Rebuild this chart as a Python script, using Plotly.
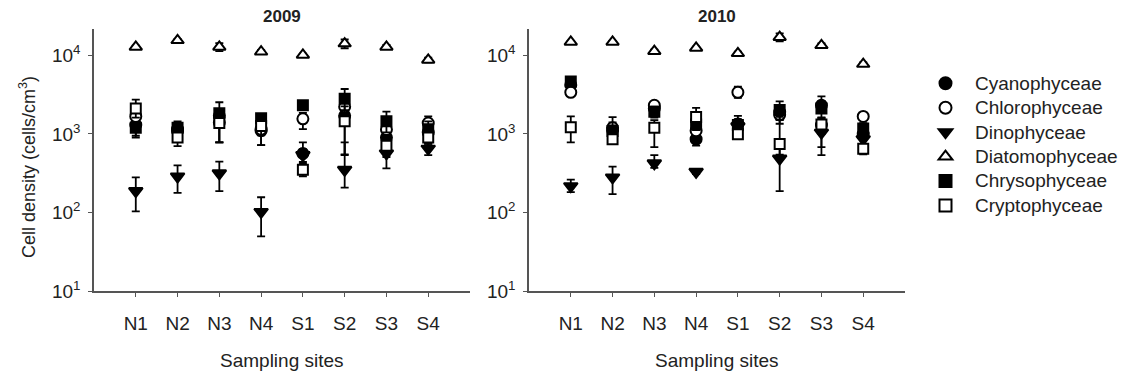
import plotly.graph_objects as go

sites = ["N1", "N2", "N3", "N4", "S1", "S2", "S3", "S4"]
years = ["2009", "2010"]
groups = ["Cyanophyceae", "Chlorophyceae", "Dinophyceae", "Diatomophyceae", "Chrysophyceae", "Cryptophyceae"]

# 2009 means
cyano_2009 = [1300, 1100, 1700, 1100, 565, 1700, 900, 1050]
chloro_2009 = [1670, 1150, 1400, 1150, 1560, 2220, 1140, 1380]
dino_2009 = [188, 288, 316, 102, 540, 350, 565, 650]
diatom_2009 = [12800, 15500, 12800, 11100, 10100, 14100, 12800, 8750]
chryso_2009 = [1200, 1200, 1830, 1590, 2320, 2810, 1450, 1150]
crypto_2009 = [2110, 900, 1380, 1260, 350, 1450, 710, 900]

# 2009 errors (upper, lower)
cyano_2009_up = [250, 150, 300, 200, 215, 500, 200, 200]
cyano_2009_dn = [350, 200, 920, 380, 150, 1160, 350, 300]
chloro_2009_up = [400, 200, 300, 300, 300, 500, 300, 290]
chloro_2009_dn = [400, 200, 620, 430, 410, 700, 300, 300]
dino_2009_up = [92, 112, 130, 55, 100, 430, 150, 100]
dino_2009_dn = [84, 110, 128, 52, 100, 142, 200, 110]
diatom_2009_up = [500, 600, 1500, 500, 400, 1800, 800, 600]
diatom_2009_dn = [500, 600, 1500, 500, 400, 1800, 800, 600]
chryso_2009_up = [200, 250, 700, 200, 200, 920, 470, 300]
chryso_2009_dn = [300, 300, 400, 300, 200, 800, 400, 300]
crypto_2009_up = [620, 300, 400, 300, 50, 800, 200, 200]
crypto_2009_dn = [500, 200, 600, 300, 60, 900, 200, 200]

# 2010 means
cyano_2010 = [4200, 1100, 2110, 860, 1340, 1900, 2320, 1000]
chloro_2010 = [3390, 1200, 2320, 1100, 3390, 1750, 1300, 1670]
dino_2010 = [217, 280, 423, 330, 1250, 487, 1040, 860]
diatom_2010 = [14800, 14800, 11300, 12400, 10600, 17000, 13400, 7740]
chryso_2010 = [4640, 1090, 1920, 1320, 1300, 2020, 2110, 1170]
crypto_2010 = [1220, 860, 1200, 1640, 990, 746, 1320, 650]

# 2010 errors (upper, lower)
cyano_2010_up = [300, 150, 200, 150, 200, 400, 300, 150]
cyano_2010_dn = [300, 150, 200, 150, 200, 400, 300, 150]
chloro_2010_up = [300, 200, 200, 200, 600, 400, 300, 150]
chloro_2010_dn = [300, 200, 200, 200, 500, 400, 300, 150]
dino_2010_up = [46, 104, 117, 30, 200, 300, 500, 150]
dino_2010_dn = [35, 108, 53, 20, 200, 299, 500, 150]
diatom_2010_up = [500, 500, 500, 500, 500, 2000, 800, 400]
diatom_2010_dn = [500, 500, 500, 500, 500, 2000, 800, 400]
chryso_2010_up = [400, 200, 300, 200, 400, 570, 890, 200]
chryso_2010_dn = [400, 200, 300, 200, 300, 500, 700, 200]
crypto_2010_up = [450, 780, 300, 510, 300, 900, 300, 100]
crypto_2010_dn = [440, 100, 520, 300, 100, 200, 640, 100]

data = {
    "2009": [
        (cyano_2009, cyano_2009_up, cyano_2009_dn),
        (chloro_2009, chloro_2009_up, chloro_2009_dn),
        (dino_2009, dino_2009_up, dino_2009_dn),
        (diatom_2009, diatom_2009_up, diatom_2009_dn),
        (chryso_2009, chryso_2009_up, chryso_2009_dn),
        (crypto_2009, crypto_2009_up, crypto_2009_dn),
    ],
    "2010": [
        (cyano_2010, cyano_2010_up, cyano_2010_dn),
        (chloro_2010, chloro_2010_up, chloro_2010_dn),
        (dino_2010, dino_2010_up, dino_2010_dn),
        (diatom_2010, diatom_2010_up, diatom_2010_dn),
        (chryso_2010, chryso_2010_up, chryso_2010_dn),
        (crypto_2010, crypto_2010_up, crypto_2010_dn),
    ],
}

styles = [
    dict(symbol="circle", color="black", size=11),
    dict(symbol="circle", color="white", size=11),
    dict(symbol="triangle-down", color="black", size=12),
    dict(symbol="triangle-up", color="white", size=11),
    dict(symbol="square", color="black", size=10),
    dict(symbol="square", color="white", size=10),
]

W, H = 1129, 379
FONT = "Liberation Sans, Arial, sans-serif"
TXT = "#222222"
AX = "#555555"

fig = go.Figure()
for yi, yr in enumerate(years):
    xa = "x" if yi == 0 else "x2"
    ya = "y" if yi == 0 else "y2"
    for gi, g in enumerate(groups):
        vals, up, dn = data[yr][gi]
        st = styles[gi]
        fig.add_trace(go.Scatter(
            x=sites, y=vals, mode="markers",
            name='<span style="font-size:19px">' + g + '</span>',
            xaxis=xa, yaxis=ya,
            showlegend=(yi == 0), legendgroup=g,
            marker=dict(symbol=st["symbol"], size=st["size"], color=st["color"],
                        line=dict(color="black", width=2)),
            error_y=dict(type="data", symmetric=False, array=up, arrayminus=dn,
                         color="black", thickness=1.8, width=4),
        ))

ydom = [(H - 300) / H, (H - 30) / H]
xdom1 = [94 / W, 470 / W]
xdom2 = [529 / W, 905 / W]

yticks = [10, 100, 1000, 10000]
yticktext = ["10<sup>1</sup>", "10<sup>2</sup>", "10<sup>3</sup>", "10<sup>4</sup>"]

axcommon_x = dict(type="category", categoryorder="array", categoryarray=sites,
                  range=[-1, 8], showline=True, linecolor=AX, linewidth=1.5,
                  ticks="outside", ticklen=4, tickcolor=AX, showgrid=False,
                  zeroline=False, ticklabelstandoff=10,
                  tickfont=dict(size=19, color=TXT, family=FONT))
axcommon_y = dict(type="log", range=[1, 4.333], showline=True, linecolor=AX, linewidth=1.5,
                  ticks="outside", ticklen=4, tickcolor=AX, showgrid=False,
                  zeroline=False, tickvals=yticks, ticktext=yticktext,
                  ticklabelstandoff=4,
                  tickfont=dict(size=19, color=TXT, family=FONT))

fig.update_layout(
    width=W, height=H,
    margin=dict(l=0, r=0, t=0, b=0),
    paper_bgcolor="white", plot_bgcolor="white",
    font=dict(family=FONT, color=TXT),
    xaxis=dict(domain=xdom1, anchor="y", **axcommon_x),
    yaxis=dict(domain=ydom, anchor="x", **axcommon_y),
    xaxis2=dict(domain=xdom2, anchor="y2", **axcommon_x),
    yaxis2=dict(domain=ydom, anchor="x2", **axcommon_y),
    legend=dict(x=916 / W, y=1 - 68 / H, xanchor="left", yanchor="top",
                font=dict(size=16.5, color=TXT, family=FONT),
                tracegroupgap=0, bgcolor="rgba(0,0,0,0)", itemwidth=49,
                itemsizing="constant"),
    showlegend=True,
)

annotations = [
    dict(text="<b>2009</b>", x=282 / W, y=1 - 17 / H, xref="paper", yref="paper",
         xanchor="center", yanchor="middle",
         showarrow=False, font=dict(size=17, color=TXT, family=FONT)),
    dict(text="<b>2010</b>", x=717 / W, y=1 - 17 / H, xref="paper", yref="paper",
         xanchor="center", yanchor="middle",
         showarrow=False, font=dict(size=17, color=TXT, family=FONT)),
    dict(text="Sampling sites", x=282 / W, y=1 - 371 / H, xref="paper", yref="paper",
         xanchor="center", yanchor="middle",
         showarrow=False, font=dict(size=19, color=TXT, family=FONT)),
    dict(text="Sampling sites", x=717 / W, y=1 - 371 / H, xref="paper", yref="paper",
         xanchor="center", yanchor="middle",
         showarrow=False, font=dict(size=19, color=TXT, family=FONT)),
    dict(text="Cell density (cells/cm<sup>3</sup>)", x=27 / W, y=1 - 172 / H,
         xref="paper", yref="paper", textangle=-90, showarrow=False,
         xanchor="center", yanchor="middle",
         font=dict(size=18, color=TXT, family=FONT)),
]
fig.update_layout(annotations=annotations)

fig.write_html("out.html")
